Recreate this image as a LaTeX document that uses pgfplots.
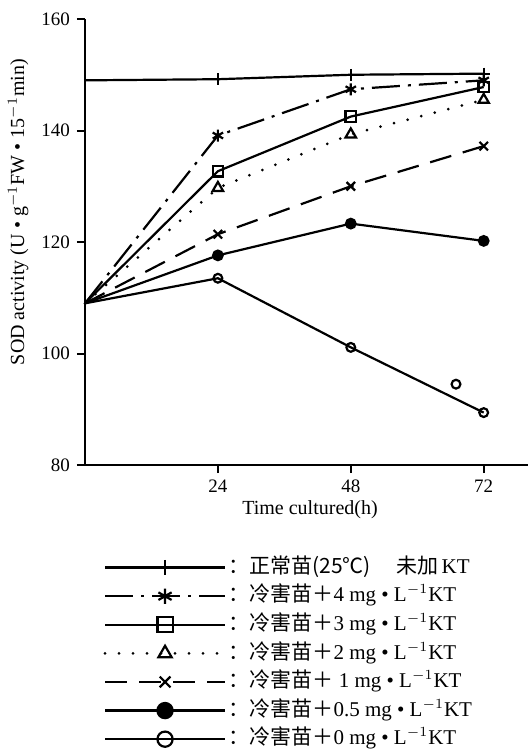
\documentclass[border=0pt]{standalone}
\usepackage{fontspec}
\setmainfont{Liberation Serif}
\newfontfamily\cjk{Noto Sans CJK SC}
\usepackage{pgfplots}
\pgfplotsset{compat=1.18}

\begin{document}
\begin{tikzpicture}
\begin{axis}[
  scale only axis,
  width=221.5pt, height=223pt,
  xmin=0, xmax=80, ymin=80, ymax=160,
  axis lines=left,
  axis line style={-, line width=1.1pt},
  tick align=outside,
  major tick length=4pt,
  tick style={line width=1pt, black},
  xtick={24,48,72},
  ytick={80,100,120,140,160},
  /pgf/number format/assume math mode=true,
  tick label style={font=\fontsize{9.5}{11}\selectfont},
  xlabel={Time cultured(h)},
  ylabel={SOD activity (U • g$^{-1}$FW • 15$^{-1}$min)},
  label style={font=\fontsize{10}{12}\selectfont},
  every axis x label/.style={at={(axis description cs:0.508,-0.101)}, anchor=center},
  every axis y label/.style={at={(axis description cs:-0.151,0.567)}, rotate=90, anchor=center},
  clip=false,
  every axis plot/.append style={line width=1.1pt, black},
  legend style={draw=none, fill=none, at={(axis description cs:0.46,-0.197)}, anchor=north,
    font=\fontsize{10.5}{12}\selectfont, row sep=0pt, inner sep=0pt,
    nodes={inner sep=1pt, text height=9pt, text depth=3.3pt}},
  legend cell align=left,
  legend image code/.code={\draw[#1, mark indices={2}]
    plot coordinates {(0pt,0pt) (30pt,0pt) (60pt,0pt)};},
  legend image post style={mark size=3.8pt},
]
  % normal seedlings
  \addplot[mark=+, mark size=3pt, mark indices={2,3,4}]
    coordinates {(0,149) (24,149.2) (48,150) (72,150.2)};
  % 4 mg
  \addplot[dash pattern=on 14pt off 4pt on 1.5pt off 4pt, mark=asterisk, mark size=3pt,
    mark options={solid}, mark indices={2,3,4}]
    coordinates {(0,109) (24,139.1) (48,147.4) (72,149)};
  % 3 mg
  \addplot[mark=square, mark size=2.6pt, mark options={fill=white}, mark indices={2,3,4}]
    coordinates {(0,109) (24,132.7) (48,142.5) (72,147.8)};
  % 2 mg
  \addplot[line cap=round, dash pattern=on 0pt off 7pt, line width=1.5pt, mark=triangle,
    mark size=3pt, mark options={solid, line width=1.1pt, fill=white}, mark indices={2,3,4}]
    coordinates {(0,109) (24,129.7) (48,139.3) (72,145.5)};
  % 1 mg
  \addplot[dash pattern=on 11pt off 6pt, mark=x, mark size=3pt, mark options={solid},
    mark indices={2,3,4}]
    coordinates {(0,109) (24,121.4) (48,130) (72,137.2)};
  % 0.5 mg
  \addplot[mark=*, mark size=2.4pt, mark indices={2,3,4}]
    coordinates {(0,109) (24,117.6) (48,123.3) (72,120.2)};
  % 0 mg
  \addplot[mark=o, mark size=2.2pt, mark options={fill=white}, mark indices={2,3,4}]
    coordinates {(0,109) (24,113.5) (48,101.1) (72,89.4)};
  % stray mark printed in the original figure
  \addplot[only marks, mark=o, mark size=2.2pt, forget plot] coordinates {(67,94.5)};

  \legend{
    {\cjk ：正常苗(25℃)\hspace{1.2em}未加}\,KT,
    {\cjk ：冷害苗＋}4 mg • L$^{-1}$KT,
    {\cjk ：冷害苗＋}3 mg • L$^{-1}$KT,
    {\cjk ：冷害苗＋}2 mg • L$^{-1}$KT,
    {\cjk ：冷害苗＋}\ 1 mg • L$^{-1}$KT,
    {\cjk ：冷害苗＋}0.5 mg • L$^{-1}$KT,
    {\cjk ：冷害苗＋}0 mg • L$^{-1}$KT}
\end{axis}
\pgfresetboundingbox
\path[use as bounding box] (-42.5pt,-143.5pt) rectangle (222.5pt,232.5pt);
\end{tikzpicture}
\end{document}
